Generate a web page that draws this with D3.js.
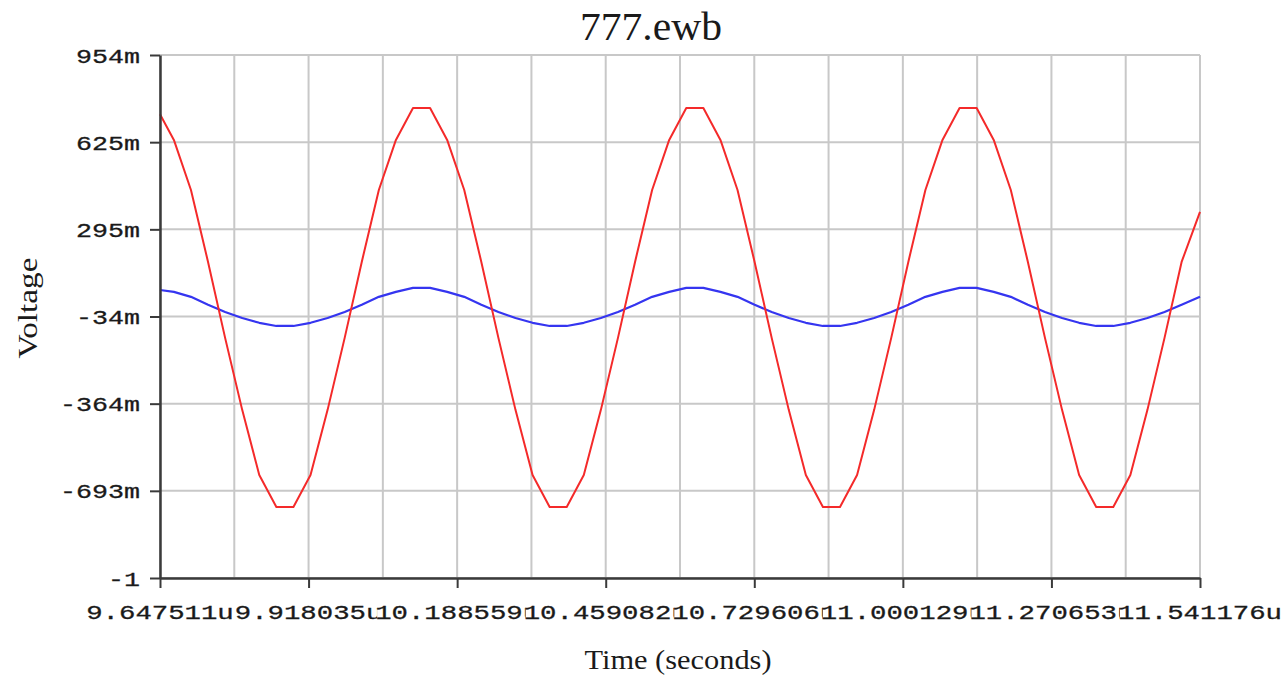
<!DOCTYPE html>
<html>
<head>
<meta charset="utf-8">
<script src="https://cdn.jsdelivr.net/npm/d3@7/dist/d3.min.js"></script>
<style>
  html, body { margin: 0; padding: 0; background: #fff; }
  svg { display: block; }
</style>
</head>
<body>
<svg id="chart" width="1286" height="679"></svg>
<script>
// ---------------- data ----------------
const chartTitle = "777.ewb";
const xTitle = "Time (seconds)";
const yTitle = "Voltage";

const xTickValues = [9.647511, 9.918035, 10.188559, 10.459082, 10.729606, 11.000129, 11.270653, 11.541176];
const xTickLabels = ["9.647511u", "9.918035u", "10.188559u", "10.459082u", "10.729606u", "11.000129u", "11.270653u", "11.541176u"];

const yTickValues = [-1.0224, -0.693, -0.3636, -0.0342, 0.2952, 0.6246, 0.954];
const yTickLabels = ["-1", "-693m", "-364m", "-34m", "295m", "625m", "954m"];

// time in microseconds
const timeUs = [
  9.647511,
  9.67278, 9.70388, 9.73498, 9.76608, 9.79718, 9.82828, 9.85938, 9.89048,
  9.92158, 9.95268, 9.98378, 10.01488, 10.04598, 10.07708,
  10.10818, 10.13928, 10.17038, 10.20148, 10.23258, 10.26368, 10.29478, 10.32588,
  10.35698, 10.38808, 10.41918, 10.45028, 10.48138, 10.51248, 10.54358, 10.57468,
  10.60578, 10.63688, 10.66798, 10.69908, 10.73018, 10.76128, 10.79238, 10.82348,
  10.85458, 10.88568, 10.91678, 10.94788, 10.97898, 11.01008, 11.04118, 11.07228,
  11.10338, 11.13448, 11.16558, 11.19668, 11.22778, 11.25888, 11.28998, 11.32108,
  11.35218, 11.38328, 11.41438, 11.44548, 11.47658, 11.50768,
  11.541176
];

// red trace (V)
const redVolts = [
  0.730,
  0.633, 0.444, 0.172, -0.115, -0.387, -0.633, -0.754, -0.754,
  -0.633, -0.387, -0.115, 0.172, 0.444, 0.633,
  0.754, 0.754, 0.633, 0.444, 0.172, -0.115, -0.387, -0.633,
  -0.754, -0.754, -0.633, -0.387, -0.115, 0.172, 0.444, 0.633,
  0.754, 0.754, 0.633, 0.444, 0.172, -0.115, -0.387, -0.633,
  -0.754, -0.754, -0.633, -0.387, -0.115, 0.172, 0.444, 0.633,
  0.754, 0.754, 0.633, 0.444, 0.172, -0.115, -0.387, -0.633,
  -0.754, -0.754, -0.633, -0.387, -0.115, 0.172,
  0.361
];

// blue trace (V)
const blueVolts = [
  0.066,
  0.059, 0.040, 0.010, -0.017, -0.040, -0.058, -0.070, -0.070,
  -0.058, -0.040, -0.017, 0.010, 0.040, 0.059,
  0.074, 0.074, 0.059, 0.040, 0.010, -0.017, -0.040, -0.058,
  -0.070, -0.070, -0.058, -0.040, -0.017, 0.010, 0.040, 0.059,
  0.074, 0.074, 0.059, 0.040, 0.010, -0.017, -0.040, -0.058,
  -0.070, -0.070, -0.058, -0.040, -0.017, 0.010, 0.040, 0.059,
  0.074, 0.074, 0.059, 0.040, 0.010, -0.017, -0.040, -0.058,
  -0.070, -0.070, -0.058, -0.040, -0.017, 0.010,
  0.040
];

// ---------------- drawing ----------------
const svg = d3.select("#chart");
const W = 1286, H = 679;
const margin = { left: 160, right: 86, top: 55, bottom: 101 };
const x0 = margin.left, x1 = W - margin.right;
const y0 = margin.top, y1 = H - margin.bottom;

svg.append("rect").attr("width", W).attr("height", H).attr("fill", "#fff");

const x = d3.scaleLinear().domain([xTickValues[0], xTickValues[xTickValues.length - 1]]).range([x0, x1]);
const y = d3.scaleLinear().domain([yTickValues[0], yTickValues[yTickValues.length - 1]]).range([y1, y0]);

const gridColor = "#c8c8c8";
const axisColor = "#3a3a3a";
const textColor = "#1a1a1a";
const monoFont = "'Liberation Mono', 'DejaVu Sans Mono', monospace";
const serifFont = "'Liberation Serif', 'DejaVu Serif', serif";

// grid: vertical lines at major ticks and halfway between them
const xGridVals = [];
xTickValues.forEach((v, i) => {
  xGridVals.push(v);
  if (i < xTickValues.length - 1) xGridVals.push((v + xTickValues[i + 1]) / 2);
});
const grid = svg.append("g");
grid.selectAll("line.v").data(xGridVals).join("line")
  .attr("x1", d => x(d)).attr("x2", d => x(d))
  .attr("y1", y0).attr("y2", y1)
  .attr("stroke", gridColor).attr("stroke-width", 2);
grid.selectAll("line.h").data(yTickValues).join("line")
  .attr("x1", x0).attr("x2", x1)
  .attr("y1", d => y(d)).attr("y2", d => y(d))
  .attr("stroke", gridColor).attr("stroke-width", 2);

// series
const line = d3.line().x(d => x(d[0])).y(d => y(d[1]));
svg.append("path")
  .datum(d3.zip(timeUs, blueVolts))
  .attr("d", line).attr("fill", "none")
  .attr("stroke", "#3535f0").attr("stroke-width", 2.2).attr("stroke-linejoin", "round");
svg.append("path")
  .datum(d3.zip(timeUs, redVolts))
  .attr("d", line).attr("fill", "none")
  .attr("stroke", "#f42a2a").attr("stroke-width", 2).attr("stroke-linejoin", "round");

// Y axis
const yAxis = d3.axisLeft(y).tickValues(yTickValues)
  .tickFormat((d, i) => yTickLabels[i]).tickSize(10).tickSizeOuter(0).tickPadding(10);
const gy = svg.append("g").attr("transform", `translate(${x0},0)`).call(yAxis);
gy.select(".domain").attr("stroke", axisColor).attr("stroke-width", 2.5);
gy.selectAll(".tick line").attr("stroke", axisColor).attr("stroke-width", 2);
gy.selectAll(".tick text")
  .attr("font-family", monoFont).attr("font-size", 20).attr("fill", textColor)
  .attr("stroke", textColor).attr("stroke-width", 0.3)
  .attr("dy", "0.35em")
  .attr("textLength", (d, i) => yTickLabels[i].length * 16)
  .attr("lengthAdjust", "spacingAndGlyphs");

// X axis
const xAxis = d3.axisBottom(x).tickValues(xTickValues)
  .tickFormat("").tickSize(10).tickSizeOuter(0);
const gx = svg.append("g").attr("transform", `translate(0,${y1})`).call(xAxis);
gx.select(".domain").attr("stroke", axisColor).attr("stroke-width", 2.5);
gx.selectAll(".tick line").attr("stroke", axisColor).attr("stroke-width", 2);

// X tick labels (overlapping, each drawn with a white backing so later ones cover earlier ones)
const charW = 16.4;
const xl = svg.append("g");
xTickValues.forEach((v, i) => {
  const lab = xTickLabels[i];
  const w = lab.length * charW;
  const cx = x(v);
  const g = xl.append("g");
  g.append("rect").attr("x", cx - w / 2 + 2).attr("y", 600).attr("width", w - 2).attr("height", 24).attr("fill", "#fff");
  g.append("text")
    .attr("x", cx).attr("y", 619)
    .attr("text-anchor", "middle")
    .attr("font-family", monoFont).attr("font-size", 20).attr("fill", textColor)
    .attr("stroke", textColor).attr("stroke-width", 0.3)
    .attr("textLength", w).attr("lengthAdjust", "spacingAndGlyphs")
    .text(lab);
});

// titles
svg.append("text")
  .attr("x", 651).attr("y", 40).attr("text-anchor", "middle")
  .attr("font-family", serifFont).attr("font-size", 40).attr("fill", textColor)
  .attr("textLength", 142).attr("lengthAdjust", "spacingAndGlyphs")
  .text(chartTitle);

svg.append("text")
  .attr("x", 678).attr("y", 669).attr("text-anchor", "middle")
  .attr("font-family", serifFont).attr("font-size", 27).attr("fill", textColor)
  .attr("textLength", 187).attr("lengthAdjust", "spacingAndGlyphs")
  .text(xTitle);

svg.append("text")
  .attr("transform", "translate(37,308) rotate(-90)")
  .attr("text-anchor", "middle")
  .attr("font-family", serifFont).attr("font-size", 27).attr("fill", textColor)
  .attr("textLength", 101).attr("lengthAdjust", "spacingAndGlyphs")
  .text(yTitle);
</script>
</body>
</html>
